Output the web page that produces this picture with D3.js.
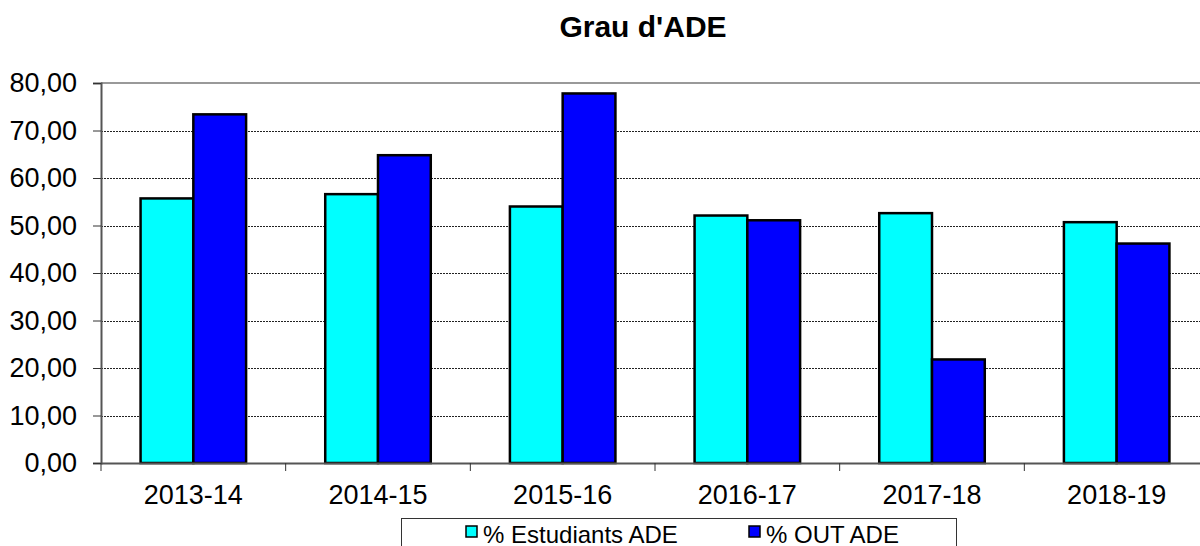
<!DOCTYPE html>
<html>
<head>
<meta charset="utf-8">
<script src="https://cdn.jsdelivr.net/npm/d3@7"></script>
<style>
  body { margin: 0; background: #fff; }
  svg { display: block; font-family: Arial, "Liberation Sans", sans-serif; }
</style>
</head>
<body>
<svg id="chart"></svg>
<script>
// values
var years = ["2013-14", "2014-15", "2015-16", "2016-17", "2017-18", "2018-19"];
var seriesNames = ["% Estudiants ADE", "% OUT ADE"];
var estudiants = [55.7, 56.6, 54.0, 52.1, 52.6, 50.7];
var outAde = [73.4, 64.8, 77.8, 51.1, 21.8, 46.2];
var yTicks = [0, 10, 20, 30, 40, 50, 60, 70, 80];
var colors = ["#00ffff", "#0000ff"];

function drawChart() {
  var width = 1200, height = 546;
  var m = {left: 101, right: 1209, top: 83, bottom: 463};

  var data = years.map(function(yr, i) { return {year: yr, values: [estudiants[i], outAde[i]]}; });

  var svg = d3.select("#chart").attr("width", width).attr("height", height);

  var x = d3.scaleBand().domain(years).range([m.left, m.right]);
  var x1 = d3.scaleBand().domain(d3.range(seriesNames.length))
             .range([0, x.bandwidth()]).paddingOuter(0.75);
  var y = d3.scaleLinear().domain([0, 80]).range([m.bottom, m.top]);

  var fmt = function(d) { return d3.format(".2f")(d).replace(".", ","); };

  // title
  svg.append("text")
     .attr("x", 643).attr("y", 37)
     .attr("text-anchor", "middle")
     .style("font-size", "30px").style("font-weight", "bold")
     .text("Grau d'ADE");

  // dotted gridlines
  svg.append("g")
     .selectAll("line")
     .data(yTicks.filter(function(d) { return d > 0 && d < 80; }))
     .enter().append("line")
     .attr("x1", m.left).attr("x2", m.right)
     .attr("y1", function(d) { return Math.round(y(d)) + 0.5; })
     .attr("y2", function(d) { return Math.round(y(d)) + 0.5; })
     .attr("stroke", "#222").attr("stroke-width", 1)
     .attr("stroke-dasharray", "2,1");

  // top border of the plot area
  svg.append("line")
     .attr("x1", m.left).attr("x2", m.right)
     .attr("y1", m.top).attr("y2", m.top)
     .attr("stroke", "#999").attr("stroke-width", 2);

  // bars
  var group = svg.append("g").selectAll("g")
     .data(data)
     .enter().append("g")
     .attr("transform", function(d) { return "translate(" + x(d.year) + ",0)"; });

  group.selectAll("rect")
     .data(function(d) { return d.values; })
     .enter().append("rect")
     .attr("x", function(d, i) { return x1(i); })
     .attr("y", function(d) { return y(d); })
     .attr("width", x1.bandwidth())
     .attr("height", function(d) { return y(0) - y(d); })
     .attr("fill", function(d, i) { return colors[i]; })
     .attr("stroke", "#000").attr("stroke-width", 2.5);

  // y axis
  var yAxis = d3.axisLeft(y).tickValues(yTicks).tickFormat(fmt).tickSize(8).tickPadding(16);
  var gy = svg.append("g").attr("transform", "translate(" + m.left + ",0)").call(yAxis);
  gy.select(".domain").attr("stroke", "#555").attr("stroke-width", 2);
  gy.selectAll(".tick line").attr("stroke", "#333");
  gy.selectAll("text").style("font-size", "27px").attr("fill", "#000");

  // x axis
  var xAxis = d3.axisBottom(x).tickSize(0).tickPadding(22);
  var gx = svg.append("g").attr("transform", "translate(0," + m.bottom + ")").call(xAxis);
  gx.select(".domain").attr("stroke", "#555").attr("stroke-width", 2);
  gx.selectAll("text").style("font-size", "27px").attr("fill", "#000");

  // category separator ticks
  svg.append("g").selectAll("line")
     .data(d3.range(years.length + 1))
     .enter().append("line")
     .attr("x1", function(i) { return m.left + i * x.step(); })
     .attr("x2", function(i) { return m.left + i * x.step(); })
     .attr("y1", m.bottom).attr("y2", m.bottom + 8)
     .attr("stroke", "#333");

  // legend
  var legend = svg.append("g");
  legend.append("rect")
     .attr("x", 401.5).attr("y", 518.5)
     .attr("width", 555).attr("height", 50)
     .attr("fill", "#fff").attr("stroke", "#333").attr("stroke-width", 1);

  var legendX = [466, 749];
  var items = legend.selectAll("g.item")
     .data(seriesNames)
     .enter().append("g").attr("class", "item")
     .attr("transform", function(d, i) { return "translate(" + legendX[i] + ",526)"; });

  items.append("rect")
     .attr("width", 11).attr("height", 11)
     .attr("fill", function(d, i) { return colors[i]; })
     .attr("stroke", "#000").attr("stroke-width", 1.5);

  items.append("text")
     .attr("x", 17).attr("y", 17)
     .style("font-size", "24px")
     .text(function(d) { return d; });
}

drawChart();
</script>
</body>
</html>
